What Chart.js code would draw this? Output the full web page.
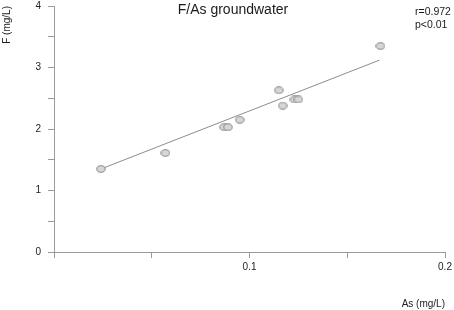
<!DOCTYPE html>
<html>
<head>
<meta charset="utf-8">
<script src="https://cdn.jsdelivr.net/npm/chart.js@4"></script>
<style>
  body { margin: 0; background: #fff; }
</style>
</head>
<body>
<canvas id="chart" width="454" height="310"></canvas>
<script>
// arsenic (x) vs fluoride (y) samples, mg/L
const asValues = [0.024, 0.057, 0.087, 0.089, 0.095, 0.115, 0.117, 0.123, 0.125, 0.167];
const fValues = [1.35, 1.61, 2.03, 2.03, 2.15, 2.63, 2.38, 2.48, 2.48, 3.35];

// regression line end points
const fitAs = [0.024, 0.1665];
const fitF = [1.35, 3.12];

const xTickLabels = ["", "", "0.1", "", "0.2"];
const yTickLabels = ["0", "", "1", "", "2", "", "3", "", "4"];

const titleText = "F/As groundwater";
const statLines = ["r=0.972", "p<0.01"];

const axisColor = "#9a9a9a";
const font = "Arial, 'Liberation Sans', sans-serif";

// little grey ellipse used as marker
const dot = document.createElement("canvas");
dot.width = 10;
dot.height = 8;
const dctx = dot.getContext("2d");
dctx.beginPath();
dctx.ellipse(5, 4, 4.2, 3.3, 0, 0, Math.PI * 2);
dctx.fillStyle = "#d6d6d6";
dctx.fill();
dctx.lineWidth = 0.9;
dctx.strokeStyle = "#808080";
dctx.stroke();

const textPlugin = {
  id: "texts",
  afterDraw(chart) {
    const ctx = chart.ctx;
    ctx.save();
    ctx.fillStyle = "#1a1a1a";
    ctx.textBaseline = "middle";
    ctx.textAlign = "center";
    ctx.font = "14px " + font;
    ctx.fillText(titleText, 233, 10);
    ctx.textAlign = "left";
    ctx.font = "10.5px " + font;
    statLines.forEach((s, i) => ctx.fillText(s, 415, 12 + i * 13));
    ctx.restore();
  }
};

// keep the plot box where the reference has it
const noPad = (s) => {
  s.paddingTop = 0;
  s.paddingRight = 0;
  s.paddingLeft = 0;
  s.paddingBottom = 0;
};

const ctx = document.getElementById("chart").getContext("2d");
new Chart(ctx, {
  type: "scatter",
  data: {
    datasets: [
      {
        label: "samples",
        data: asValues.map((x, i) => ({ x: x, y: fValues[i] })),
        pointStyle: dot,
        pointRadius: 5,
        pointHoverRadius: 5
      },
      {
        type: "line",
        label: "fit",
        data: fitAs.map((x, i) => ({ x: x, y: fitF[i] })),
        borderColor: "#8c8c8c",
        borderWidth: 1,
        pointRadius: 0,
        fill: false
      }
    ]
  },
  options: {
    responsive: false,
    animation: false,
    layout: { padding: { top: 3, right: 9, left: 0, bottom: 0 } },
    plugins: {
      legend: { display: false },
      tooltip: { enabled: false }
    },
    scales: {
      x: {
        type: "linear",
        min: 0,
        max: 0.2,
        afterFit: (s) => { s.height = 58; noPad(s); },
        ticks: {
          stepSize: 0.05,
          autoSkip: false,
          maxRotation: 0,
          padding: 3,
          color: "#222",
          font: { family: font, size: 10 },
          callback: (v, i) => xTickLabels[i]
        },
        grid: { drawOnChartArea: false, drawTicks: true, tickLength: 6, color: axisColor },
        border: { display: true, color: axisColor, width: 1 },
        title: {
          display: true,
          text: "As (mg/L)",
          align: "end",
          color: "#222",
          font: { family: font, size: 10 },
          padding: { top: 0, bottom: 0 }
        }
      },
      y: {
        min: 0,
        max: 4,
        afterFit: (s) => { s.width = 54; noPad(s); },
        ticks: {
          stepSize: 0.5,
          autoSkip: false,
          padding: 7,
          color: "#222",
          font: { family: font, size: 10 },
          callback: (v, i) => yTickLabels[i]
        },
        grid: { drawOnChartArea: false, drawTicks: true, tickLength: 6, color: axisColor },
        border: { display: true, color: axisColor, width: 1 },
        title: {
          display: true,
          text: "F (mg/L)",
          align: "end",
          color: "#222",
          font: { family: font, size: 10 },
          padding: { top: 1, bottom: 0 }
        }
      }
    }
  },
  plugins: [textPlugin]
});
</script>
</body>
</html>
